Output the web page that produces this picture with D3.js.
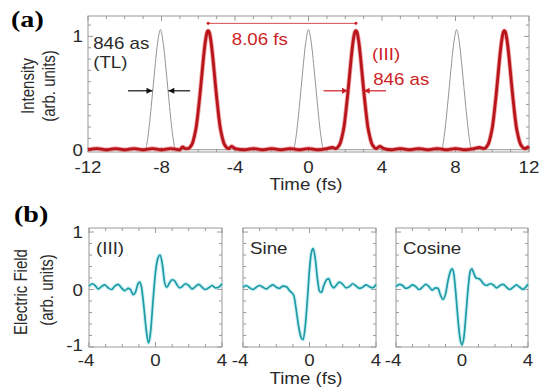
<!DOCTYPE html>
<html>
<head>
<meta charset="utf-8">
<script src="https://cdn.jsdelivr.net/npm/d3@7"></script>
<style>
	body { margin: 0; background: #fff; }
	.frame { fill: none; stroke: #9a9a9a; stroke-width: 1; }
</style>
</head>
<body>
<div id="chart"></div>
<script>

// ---- panel (a): intensity vs time ----
var redT = [-12,-11.5,-11,-10.5,-10,-9.5,-9,-8.5,-8,-7.5,-7,-6.85,-6.7,-6.56,
	-6.41,-6.31,-6.21,-6.11,-6.01,-5.91,-5.81,-5.71,-5.61,-5.51,-5.46,-5.41,-5.31,-5.21,-5.11,-5.01,-4.91,-4.81,-4.71,-4.61,-4.51,
	-4.36,-4.18,-4.0,-3.5,-3,-2.5,-2,-1.5,-1,-0.5,0,0.5,1.0,1.3,1.48,
	1.63,1.73,1.83,1.93,2.03,2.13,2.23,2.33,2.43,2.53,2.58,2.63,2.73,2.83,2.93,3.03,3.13,3.23,3.33,3.43,3.53,
	3.68,3.88,4.1,4.5,5,5.5,6,6.5,7,7.5,8,8.5,9,9.3,9.56,
	9.71,9.81,9.91,10.01,10.11,10.21,10.31,10.41,10.51,10.61,10.66,10.71,10.81,10.91,11.01,11.11,11.21,11.31,11.41,11.51,11.61,
	11.76,11.9,12];
var redI = [0,0.01,0,0.01,0,0.01,0,0.01,0,0.01,0,0.025,0.01,0.01,
	0.03,0.06,0.12,0.2,0.33,0.48,0.65,0.82,0.96,1.04,1.05,1.04,0.96,0.82,0.65,0.48,0.33,0.2,0.12,0.06,0.03,
	0.01,0.03,0.01,0,0.01,0,0.01,0,0.01,0,0.01,0,0.01,0.02,0.01,
	0.03,0.06,0.12,0.2,0.33,0.48,0.65,0.82,0.96,1.04,1.05,1.04,0.96,0.82,0.65,0.48,0.33,0.2,0.12,0.06,0.03,
	0.01,0.03,0.01,0,0.01,0,0.01,0,0.01,0,0.01,0,0.01,0.02,0.01,
	0.03,0.06,0.12,0.2,0.33,0.48,0.65,0.82,0.96,1.04,1.05,1.04,0.96,0.82,0.65,0.48,0.33,0.2,0.12,0.06,0.03,
	0.01,0.02,0.03];

var grayT = [-12,-9.1,-8.86,-8.76,-8.66,-8.56,-8.46,-8.36,-8.26,-8.16,-8.06,-7.96,-7.86,-7.76,-7.66,-7.56,-7.46,-7.36,-7.26,-7.0,
	-1.0,-0.8,-0.7,-0.6,-0.5,-0.4,-0.3,-0.2,-0.1,0,0.1,0.2,0.3,0.4,0.5,0.6,0.7,0.8,1.0,
	7.06,7.26,7.36,7.46,7.56,7.66,7.76,7.86,7.96,8.06,8.16,8.26,8.36,8.46,8.56,8.66,8.76,8.86,9.1,12];
var grayI = [0,0,0.01,0.09,0.22,0.38,0.55,0.72,0.88,1.0,1.06,1.0,0.88,0.72,0.55,0.38,0.22,0.09,0.01,0,
	0,0.01,0.09,0.22,0.38,0.55,0.72,0.88,1.0,1.06,1.0,0.88,0.72,0.55,0.38,0.22,0.09,0.01,0,
	0,0.01,0.09,0.22,0.38,0.55,0.72,0.88,1.0,1.06,1.0,0.88,0.72,0.55,0.38,0.22,0.09,0.01,0,0];

var aXTicks = [-12,-8,-4,0,4,8,12];
var aYTicks = [0,1];
var tlArrows = [[-9.82,-8.49],[-6.44,-7.63]];   // [from, to] at half max
var redArrows = [[0.82,2.15],[4.22,3.0]];
var sepBracket = [-5.46,2.58];

// ---- panel (b): electric field ----
var fieldNames = ["(III)", "Sine", "Cosine"];
var e3T = [-4,-3.8,-3.6,-3.45,-3.25,-3.05,-2.85,-2.65,-2.45,-2.25,-2.05,-1.85,-1.65,-1.5,-1.35,-1.2,-1.05,-0.95,-0.85,-0.7,-0.55,-0.42,-0.3,-0.15,0,0.15,0.28,0.42,0.55,0.68,0.85,1.0,1.15,1.3,1.45,1.6,1.8,2.0,2.2,2.4,2.6,2.8,3.0,3.2,3.4,3.6,3.8,4];
var e3V = [0.06,0.1,0.06,0.01,0.05,0.08,0.03,0,0.06,0.09,0.03,-0.02,0.02,0,-0.09,-0.04,0.1,0.13,0.05,-0.3,-0.72,-0.93,-0.75,-0.2,0.3,0.55,0.6,0.42,0.12,0.04,0.12,0.17,0.15,0.08,0.03,0.05,0.1,0.07,0.01,0.05,0.09,0.04,0,0.03,0.07,0.03,0.04,0.1];
var sinT = [-4,-3.8,-3.6,-3.4,-3.2,-3.0,-2.8,-2.6,-2.4,-2.2,-2.0,-1.8,-1.6,-1.4,-1.2,-0.95,-0.8,-0.65,-0.5,-0.38,-0.26,-0.12,0,0.12,0.22,0.34,0.48,0.6,0.72,0.85,1.0,1.15,1.3,1.45,1.6,1.8,2.0,2.2,2.4,2.6,2.8,3.0,3.2,3.4,3.6,3.8,4];
var sinV = [0.04,0.07,0.03,0,0.04,0.07,0.04,0.01,0.05,0.08,0.04,0.02,0.06,0.05,-0.02,-0.1,-0.35,-0.65,-0.84,-0.87,-0.65,-0.15,0.35,0.65,0.71,0.55,0.18,-0.03,-0.05,0.06,0.16,0.19,0.08,0.03,0.07,0.13,0.09,0.03,0.05,0.1,0.06,0.02,0.04,0.08,0.05,0.03,0.09];
var cosT = [-4,-3.8,-3.6,-3.4,-3.2,-3.0,-2.8,-2.6,-2.4,-2.2,-2.0,-1.8,-1.6,-1.45,-1.3,-1.15,-1.0,-0.85,-0.7,-0.6,-0.5,-0.38,-0.25,-0.12,0,0.12,0.25,0.38,0.5,0.6,0.72,0.85,1.0,1.15,1.3,1.5,1.7,1.9,2.1,2.3,2.5,2.7,2.9,3.1,3.3,3.5,3.7,3.85,4];
var cosV = [0.05,0.09,0.07,0.02,0.04,0.08,0.05,0,0.04,0.09,0.05,-0.01,0.03,0.02,-0.1,-0.17,-0.08,0.15,0.32,0.36,0.28,-0.05,-0.5,-0.85,-0.96,-0.82,-0.4,0.05,0.32,0.36,0.28,0.2,0.19,0.16,0.1,0.07,0.1,0.08,0.03,0.07,0.09,0.04,0,0.04,0.08,0.04,0,0.04,0.09];
var bXTicks = [-4,0,4];
var bYTicks = [-1,0,1];

var W = 539, H = 388;
var redColor = "#cc1e24", grayColor = "#949494", cyanColor = "#1e9ba6", textColor = "#2a2a2a";
var SX = 1.17;   // the source figure is slightly stretched sideways

var svg = d3.select("#chart").append("svg")
	.attr("width", W)
	.attr("height", H);

var defs = svg.append("defs");
function marker(id, color) {
	defs.append("marker")
		.attr("id", id)
		.attr("viewBox", "0 0 10 10")
		.attr("refX", 10).attr("refY", 5)
		.attr("markerWidth", 7).attr("markerHeight", 6)
		.attr("markerUnits", "userSpaceOnUse")
		.attr("orient", "auto")
		.append("path")
		.attr("d", "M0,0 L10,5 L0,10 Z")
		.attr("fill", color);
}
marker("arrBlack", "#111");
marker("arrRed", redColor);

// stretched text label
function label(g, x, y, s, size, color, anchor, serif) {
	return g.append("text")
		.attr("transform", "translate(" + x + "," + y + ") scale(" + SX + ",1)")
		.attr("text-anchor", anchor || "start")
		.style("font-family", serif ? "'Liberation Serif', serif" : "'Liberation Sans', Arial, sans-serif")
		.style("font-weight", serif ? "bold" : "normal")
		.attr("font-size", size)
		.attr("fill", color)
		.text(s);
}
function vlabel(g, x, y, s) {
	return g.append("text")
		.attr("transform", "translate(" + x + "," + y + ") rotate(-90) scale(1," + SX + ")")
		.attr("text-anchor", "middle")
		.style("font-family", "'Liberation Sans', Arial, sans-serif")
		.attr("font-size", 15)
		.attr("fill", textColor)
		.text(s);
}

// frame with inward ticks on all four sides
function drawFrame(g, x, y, xMajor, xMinor, yMajor, yMinor) {
	var x0 = x.range()[0], x1 = x.range()[1], y0 = y.range()[0], y1 = y.range()[1];
	g.append("rect").attr("class", "frame")
		.attr("x", x0).attr("y", y1).attr("width", x1 - x0).attr("height", y0 - y1);
	var t = g.append("g").attr("stroke", "#9a9a9a").attr("stroke-width", 1);
	xMinor.forEach(function(v) {
		var len = xMajor.indexOf(v) >= 0 ? 5 : 3;
		t.append("line").attr("x1", x(v)).attr("x2", x(v)).attr("y1", y0).attr("y2", y0 - len);
		t.append("line").attr("x1", x(v)).attr("x2", x(v)).attr("y1", y1).attr("y2", y1 + len);
	});
	yMinor.forEach(function(v) {
		var len = yMajor.indexOf(v) >= 0 ? 5 : 3;
		t.append("line").attr("y1", y(v)).attr("y2", y(v)).attr("x1", x0).attr("x2", x0 + len);
		t.append("line").attr("y1", y(v)).attr("y2", y(v)).attr("x1", x1).attr("x2", x1 - len);
	});
}

// ---------- panel (a) ----------
var xa = d3.scaleLinear().domain([-12, 12]).range([88, 529]);
var ya = d3.scaleLinear().domain([-0.02, 1.18]).range([152, 16]);

var ga = svg.append("g");
drawFrame(ga, xa, ya, aXTicks, d3.range(-12, 12.01, 1), aYTicks, d3.range(0, 1.15, 0.1).map(function(d){ return Math.round(d*10)/10; }));

var lineA = d3.line().curve(d3.curveMonotoneX)
	.x(function(d) { return xa(d[0]); })
	.y(function(d) { return ya(d[1]); });

ga.append("path")
	.datum(d3.zip(grayT, grayI))
	.attr("d", lineA)
	.attr("fill", "none")
	.attr("stroke", grayColor)
	.attr("stroke-width", 1);

ga.append("path")
	.datum(d3.zip(redT, redI))
	.attr("d", lineA)
	.attr("fill", "none")
	.attr("stroke", "#e04a4a")
	.attr("stroke-opacity", 0.5)
	.attr("stroke-width", 4.5);
ga.append("path")
	.datum(d3.zip(redT, redI))
	.attr("d", lineA)
	.attr("fill", "none")
	.attr("stroke", "#b8141c")
	.attr("stroke-width", 2.8);

aXTicks.forEach(function(d) { label(ga, xa(d), 173, d, 16, textColor, "middle"); });
aYTicks.forEach(function(d) { label(ga, 83, ya(d) + 6, d, 16, textColor, "end"); });

label(ga, 306, 190, "Time (fs)", 16, textColor, "middle");
vlabel(ga, 34, 86, "Intensity");
vlabel(ga, 55, 86, "(arb. units)");

// FWHM arrows
tlArrows.forEach(function(a) {
	ga.append("line")
		.attr("x1", xa(a[0])).attr("x2", xa(a[1]))
		.attr("y1", ya(0.52)).attr("y2", ya(0.52))
		.attr("stroke", "#111").attr("stroke-width", 1.2)
		.attr("marker-end", "url(#arrBlack)");
});
redArrows.forEach(function(a) {
	ga.append("line")
		.attr("x1", xa(a[0])).attr("x2", xa(a[1]))
		.attr("y1", ya(0.52)).attr("y2", ya(0.52))
		.attr("stroke", redColor).attr("stroke-width", 1.2)
		.attr("marker-end", "url(#arrRed)");
});

// 8.06 fs separation
ga.append("line")
	.attr("x1", xa(sepBracket[0])).attr("x2", xa(sepBracket[1]))
	.attr("y1", ya(1.115)).attr("y2", ya(1.115))
	.attr("stroke", redColor).attr("stroke-width", 0.8);
sepBracket.forEach(function(v) {
	ga.append("circle")
		.attr("cx", xa(v)).attr("cy", ya(1.115)).attr("r", 1.5)
		.attr("fill", redColor);
});

label(ga, xa(-2.65), ya(0.925), "8.06 fs", 16, redColor, "middle");
label(ga, xa(3.46), ya(0.79), "(III)", 16, redColor);
label(ga, xa(3.52), ya(0.57), "846 as", 16, redColor);
label(ga, xa(-11.72), ya(0.89), "846 as", 16, textColor);
label(ga, xa(-11.72), ya(0.72), "(TL)", 16, textColor);

label(svg, 11, 27, "(a)", 24, "#000", "start", true);

// ---------- panel (b) ----------
var yb = d3.scaleLinear().domain([-1.0, 1.07]).range([347, 228]);
var bRanges = [[89, 222], [243, 376], [396, 528]];
var bSeries = [d3.zip(e3T, e3V), d3.zip(sinT, sinV), d3.zip(cosT, cosV)];

bRanges.forEach(function(r, i) {
	var xb = d3.scaleLinear().domain([-4, 4]).range(r);
	var gb = svg.append("g");
	drawFrame(gb, xb, yb, bXTicks, d3.range(-4, 4.01, 1), bYTicks, d3.range(-1, 1.01, 0.2).map(function(d){ return Math.round(d*10)/10; }));

	var lineB = d3.line().curve(d3.curveMonotoneX)
		.x(function(d) { return xb(d[0]); })
		.y(function(d) { return yb(d[1]); });

	gb.append("path")
		.datum(bSeries[i])
		.attr("d", lineB)
		.attr("fill", "none")
		.attr("stroke", "#9fe3e8")
		.attr("stroke-opacity", 0.5)
		.attr("stroke-width", 4);
	gb.append("path")
		.datum(bSeries[i])
		.attr("d", lineB)
		.attr("fill", "none")
		.attr("stroke", cyanColor)
		.attr("stroke-width", 1.7);

	bXTicks.forEach(function(d) { label(gb, xb(d) - (d < 0 ? 3 : 0), 366, d, 16, textColor, "middle"); });

	label(gb, r[0] + 7, yb(0.62), fieldNames[i], 16, textColor);
});

bYTicks.forEach(function(d) { label(svg, 83, yb(d) + (d < 0 ? 4 : 6), d, 16, textColor, "end"); });

label(svg, 306, 384, "Time (fs)", 16, textColor, "middle");
vlabel(svg, 27, 292, "Electric Field");
vlabel(svg, 53, 290, "(arb. units)");

label(svg, 14, 222, "(b)", 24, "#000", "start", true);

</script>
</body>
</html>
